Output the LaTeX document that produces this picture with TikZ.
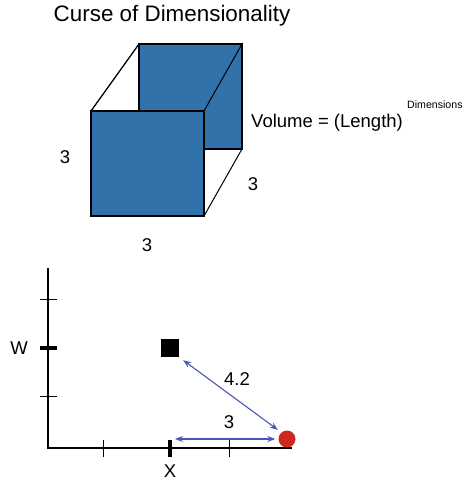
\documentclass[tikz,border=0pt]{standalone}
\usepackage{fontspec}
\setmainfont{Liberation Sans}
\usetikzlibrary{arrows.meta}
\definecolor{faceblue}{RGB}{50,114,170}
\definecolor{arrowblue}{RGB}{75,85,180}
\definecolor{dotred}{RGB}{205,40,30}
\tikzset{
  face/.style={draw=black, line width=1.3pt, fill=faceblue, minimum width=#1, inner sep=0pt, outer sep=0pt},
  edge/.style={draw=black, line width=1pt},
  lbl/.style={font=\fontsize{18.5}{22}\selectfont, inner sep=0pt},
  axis/.style={draw=black, line width=1.2pt},
  tick/.style={draw=black, line width=1pt},
  bigtick/.style={draw=black, line width=4pt},
  dist/.style={draw=arrowblue, line width=1.1pt, {Stealth[length=8pt,width=6pt]}-{Stealth[length=8pt,width=6pt]}}
}
\begin{document}
\begin{tikzpicture}[x=1pt,y=-1pt]
\useasboundingbox (0,0) rectangle (468,480);
% title
\node[font=\fontsize{22.4}{26}\selectfont, inner sep=0pt, anchor=base] (title) at (172,21) {Curse of Dimensionality};
% cube
\node[face=103pt, minimum height=105pt, anchor=north west] (back) at (139,44) {};
\draw[edge] (back.north west) -- +(-48,67) coordinate (fl);
\node[face=113pt, minimum height=105pt, anchor=north west] (front) at (fl) {};
\draw[edge] (front.north east) -- (back.north east);
\draw[edge] (front.south east) -- (back.south east);
\draw[edge] (front.north west) -- (back.north west);
\node[lbl] (lh) at (65,157) {3};
\node[lbl] (ld) at (253,184) {3};
\node[lbl] (lw) at (147,245) {3};
\node[lbl, anchor=base west] (vol) at (251,127) {Volume = (Length)};
\node[font=\fontsize{10.6}{12}\selectfont, inner sep=0pt, anchor=base west] (dims) at (407,108) {Dimensions};
% axes
\coordinate (o) at (48,448);
\coordinate (ytop) at (48,268);
\coordinate (xend) at (292,448);
\draw[axis] (ytop) -- (o) -- (xend);
\coordinate (yt1a) at (40,299); \coordinate (yt1b) at (57,299);
\coordinate (yt2a) at (40,396); \coordinate (yt2b) at (57,396);
\coordinate (ywa) at (40,348); \coordinate (ywb) at (57,348);
\draw[tick] (yt1a) -- (yt1b);
\draw[tick] (yt2a) -- (yt2b);
\draw[bigtick] (ywa) -- (ywb);
\coordinate (xt1a) at (103,440); \coordinate (xt1b) at (103,457);
\coordinate (xt2a) at (229,440); \coordinate (xt2b) at (229,457);
\coordinate (xxa) at (170,440); \coordinate (xxb) at (170,457);
\draw[tick] (xt1a) -- (xt1b);
\draw[tick] (xt2a) -- (xt2b);
\draw[bigtick] (xxa) -- (xxb);
\node[lbl] (W) at (19,348) {W};
\node[lbl] (X) at (170,471) {X};
% points
\node[fill=black, minimum size=18pt, inner sep=0pt] (sq) at (170,348) {};
\node[circle, fill=dotred, minimum size=17pt, inner sep=0pt] (dot) at (287,439) {};
\coordinate (xa) at (175,439);
\draw[dist] (xa) -- ([xshift=-3pt]dot.west);
\draw[dist] ([shift={(4,3)}]sq.south east) -- ([shift={(-3,-3)}]dot.north west);
\node[lbl] (d42) at (237,379) {4.2};
\node[lbl] (d3) at (229,422) {3};
\end{tikzpicture}
\end{document}
